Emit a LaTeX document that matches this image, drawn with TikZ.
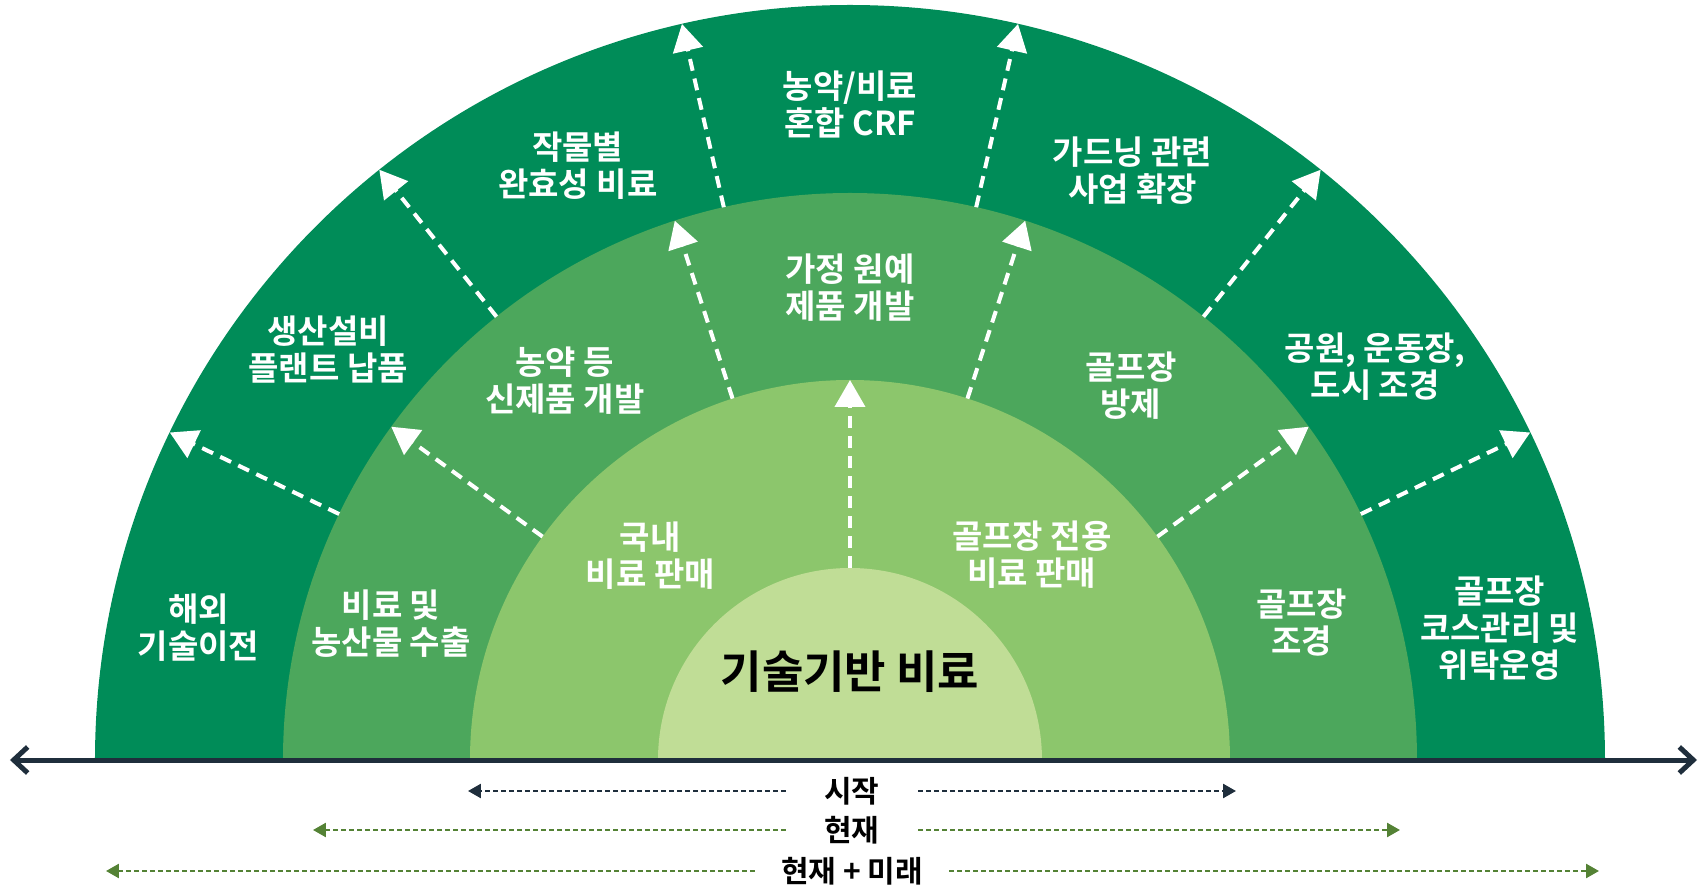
\documentclass[tikz,border=0pt]{standalone}
\usepackage{fontspec}
\setmainfont{Noto Sans CJK KR}[BoldFont={* Bold}]
\usetikzlibrary{arrows.meta}
\definecolor{ringa}{HTML}{008C58}
\definecolor{ringb}{HTML}{4CA75C}
\definecolor{ringc}{HTML}{8CC66C}
\definecolor{ringd}{HTML}{C0DD96}
\definecolor{navy}{HTML}{1F2E3C}
\definecolor{olive}{HTML}{548235}
\begin{document}
\begin{tikzpicture}[x=1pt,y=1pt,
    lbl/.style={text=white,font=\bfseries\fontsize{33}{37}\selectfont,align=center,inner sep=0pt},
    tag/.style={font=\bfseries\fontsize{30}{32}\selectfont,inner sep=0pt,minimum width=132pt},
    go/.style={white,line width=4pt,dash pattern=on 12pt off 8pt,-{Triangle[length=27pt,width=30pt]}},
    span/.style={line width=2.5pt,dash pattern=on 5pt off 3pt,-{Triangle[length=13pt,width=14pt]}}]
  \useasboundingbox (-850,-126) rectangle (855,760);
  \fill[ringa] (0:755pt) arc (0:180:755pt) -- cycle;
  \fill[ringb] (0:567pt) arc (0:180:567pt) -- cycle;
  \fill[ringc] (0:380pt) arc (0:180:380pt) -- cycle;
  \fill[ringd] (0:192pt) arc (0:180:192pt) -- cycle;
  \coordinate (l) at (-840,0);
  \coordinate (r) at (847,0);
  \draw[navy,line width=5pt,{Straight Barb[length=14pt,width=26pt]}-{Straight Barb[length=14pt,width=26pt]}] (l) -- (r);
  \draw
    (25.71:567) coordinate (p1) (25.71:755) coordinate (q1)
    (51.43:567) coordinate (p2) (51.43:755) coordinate (q2)
    (77.14:567) coordinate (p3) (77.14:755) coordinate (q3)
    (102.86:567) coordinate (p4) (102.86:755) coordinate (q4)
    (128.57:567) coordinate (p5) (128.57:755) coordinate (q5)
    (154.29:567) coordinate (p6) (154.29:755) coordinate (q6)
    (36:380) coordinate (m1) (36:567) coordinate (n1)
    (72:380) coordinate (m2) (72:567) coordinate (n2)
    (108:380) coordinate (m3) (108:567) coordinate (n3)
    (144:380) coordinate (m4) (144:567) coordinate (n4)
    (90:192) coordinate (k1) (90:380) coordinate (k2);
  \begin{scope}[go]
    \draw (p1) -- (q1);
    \draw (p2) -- (q2);
    \draw (p3) -- (q3);
    \draw (p4) -- (q4);
    \draw (p5) -- (q5);
    \draw (p6) -- (q6);
    \draw (m1) -- (n1);
    \draw (m2) -- (n2);
    \draw (m3) -- (n3);
    \draw (m4) -- (n4);
    \draw (k1) -- (k2);
  \end{scope}
  \begin{scope}[every node/.style={lbl}]
    \draw
      (168.5:665) node (a1){해외\\기술이전}
      (141.8:664) node (a2){생산설비\\플랜트 납품}
      (114.6:654) node (a3){작물별\\완효성 비료}
      (90.0:656) node (a4){농약/비료\\혼합 CRF}
      (64.4:654) node (a5){가드닝 관련\\사업 확장}
      (36.8:656) node (a6){공원, 운동장,\\도시 조경}
      (11.5:663) node (a7){골프장\\코스관리 및\\위탁운영}
      (163.4:479) node (b1){비료 및\\농산물 수출}
      (126.9:475) node (b2){농약 등\\신제품 개발}
      (90.0:472) node (b3){가정 원예\\제품 개발}
      (53.1:468) node (b4){골프장\\방제}
      (16.9:472) node (b5){골프장\\조경}
      (134.3:286) node (c1){국내\\비료 판매}
      (48.4:274) node (c2){골프장 전용\\비료 판매};
  \end{scope}
  \node[font=\bfseries\fontsize{45}{48}\selectfont] (core) at (0,88) {기술기반 비료};
  \node[tag] (s) at (2,-31) {시작};
  \node[tag] (n) at (2,-70) {현재};
  \node[tag,minimum width=0pt,inner xsep=26pt] (f) at (2,-111) {현재 + 미래};
  \coordinate (sl) at (-382,-31);
  \coordinate (sr) at (386,-31);
  \coordinate (nl) at (-537,-70);
  \coordinate (nr) at (550,-70);
  \coordinate (fl) at (-744,-111);
  \coordinate (fr) at (749,-111);
  \draw[span,navy] (s) -- (sl);
  \draw[span,navy] (s) -- (sr);
  \draw[span,olive] (n) -- (nl);
  \draw[span,olive] (n) -- (nr);
  \draw[span,olive] (f) -- (fl);
  \draw[span,olive] (f) -- (fr);
\end{tikzpicture}
\end{document}
